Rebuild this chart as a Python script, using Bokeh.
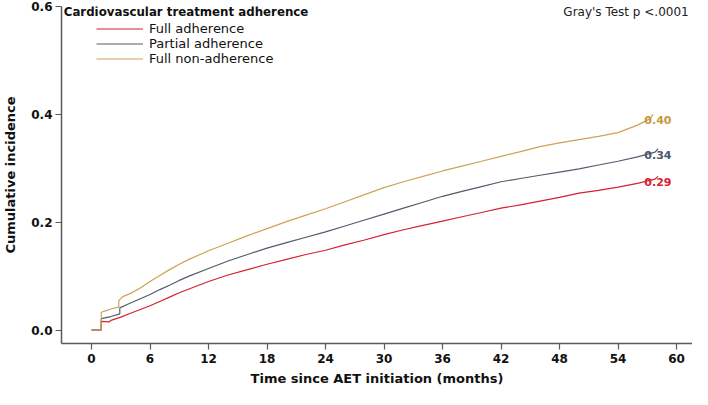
from bokeh.plotting import figure
from bokeh.models import Legend, LegendItem, Label, FixedTicker, PrintfTickFormatter
from bokeh.core.properties import value
from bokeh.embed import file_html
from bokeh.resources import INLINE

FONT = "DejaVu Sans"

# ---------------- data ----------------
groups = ["Full adherence", "Partial adherence", "Full non-adherence"]
colors = ["#d4222e", "#515c6c", "#cda355"]
label_colors = ["#d9232e", "#4a5670", "#c49a3c"]
end_labels = ["0.29", "0.34", "0.40"]

time_full = [0, 1, 1, 1.8, 2, 3, 4, 5, 6, 7, 8, 9, 10, 12, 14, 16, 18, 20, 22, 24, 26, 28,
             30, 32, 34, 36, 38, 40, 42, 44, 46, 48, 50, 52, 54, 56, 57.8, 58.1]
cif_full = [0, 0, 0.016, 0.015, 0.018, 0.024, 0.031, 0.038, 0.045, 0.053, 0.061, 0.069, 0.076,
            0.090, 0.102, 0.112, 0.122, 0.131, 0.140, 0.148, 0.158, 0.167, 0.177, 0.186, 0.194,
            0.202, 0.210, 0.218, 0.226, 0.232, 0.239, 0.246, 0.254, 0.259, 0.265, 0.272, 0.280, 0.285]

time_partial = [0, 1, 1, 2, 2.9, 2.9, 4, 5, 6, 7, 8, 9, 10, 12, 14, 16, 18, 20, 22, 24, 26, 28,
                30, 32, 34, 36, 38, 40, 42, 44, 46, 48, 50, 52, 54, 56, 57.8, 58.1]
cif_partial = [0, 0, 0.021, 0.025, 0.030, 0.041, 0.050, 0.058, 0.066, 0.075, 0.083, 0.092, 0.100,
               0.114, 0.128, 0.140, 0.152, 0.162, 0.172, 0.182, 0.193, 0.204, 0.215, 0.226, 0.237,
               0.248, 0.257, 0.266, 0.275, 0.281, 0.287, 0.293, 0.299, 0.306, 0.313, 0.321, 0.330, 0.336]

time_non = [0, 1, 1, 1.5, 2, 2.8, 2.8, 3.2, 4, 5, 6, 7, 8, 9, 10, 12, 14, 16, 18, 20, 22, 24, 26, 28,
            30, 32, 34, 36, 38, 40, 42, 44, 46, 48, 50, 52, 54, 56, 57.3, 57.6]
cif_non = [0, 0, 0.033, 0.036, 0.039, 0.043, 0.055, 0.062, 0.068, 0.078, 0.090, 0.101, 0.112, 0.122,
           0.131, 0.147, 0.161, 0.175, 0.188, 0.201, 0.213, 0.225, 0.238, 0.251, 0.264, 0.275,
           0.285, 0.295, 0.304, 0.313, 0.322, 0.331, 0.340, 0.347, 0.353, 0.359, 0.366, 0.380, 0.392, 0.400]

x_ticks = [0, 6, 12, 18, 24, 30, 36, 42, 48, 54, 60]
y_ticks = [0.0, 0.2, 0.4, 0.6]

legend_title = "Cardiovascular treatment adherence"
test_text = "Gray's Test p  <.0001"
x_title = "Time since AET initiation (months)"
y_title = "Cumulative incidence"

# ---------------- figure ----------------
p = figure(width=692, height=389, x_range=(-3.08, 61.64), y_range=(-0.025, 0.6),
           output_backend="svg", toolbar_location=None,
           min_border_left=61, min_border_right=0, min_border_top=6, min_border_bottom=46)
p.outline_line_color = None
p.xgrid.visible = False
p.ygrid.visible = False

for ax in (p.xaxis[0], p.yaxis[0]):
    ax.axis_line_color = "#5a5a5a"
    ax.axis_line_width = 1.5
    ax.major_tick_line_color = "#5a5a5a"
    ax.major_tick_line_width = 1.2
    ax.major_tick_out = 6
    ax.major_tick_in = 0
    ax.minor_tick_line_color = None
    ax.major_label_text_font = FONT
    ax.major_label_text_font_style = "bold"
    ax.major_label_text_font_size = "12px"
    ax.major_label_text_color = "#111111"
    ax.axis_label_text_font = FONT
    ax.axis_label_text_font_style = "bold"
    ax.axis_label_text_font_size = "13px"
    ax.axis_label_text_color = "#111111"

p.xaxis[0].ticker = FixedTicker(ticks=x_ticks)
p.yaxis[0].ticker = FixedTicker(ticks=y_ticks)
p.yaxis[0].formatter = PrintfTickFormatter(format="%.1f")
p.xaxis[0].axis_label = x_title
p.yaxis[0].axis_label = y_title
p.xaxis[0].major_label_standoff = 4
p.yaxis[0].major_label_standoff = 3
p.xaxis[0].axis_label_standoff = 5
p.yaxis[0].axis_label_standoff = 10

series = [(time_full, cif_full), (time_partial, cif_partial), (time_non, cif_non)]
renderers = []
for (t, v), c in zip(series, colors):
    r = p.line(t, v, line_color=c, line_width=1.2)
    renderers.append(r)

# end value labels
lab_x = [max(s[0][-1] for s in series) - 1.4] * 3
lab_y = [s[1][-1] - 0.011 for s in series]
p.text(x=lab_x, y=lab_y, text=end_labels, text_color=label_colors,
       text_font=value(FONT), text_font_style="bold", text_font_size="11px",
       text_baseline="middle", text_align="left")

# legend
legend = Legend(items=[LegendItem(label=g, renderers=[r]) for g, r in zip(groups, renderers)],
                location=(35, 277), orientation="vertical",
                glyph_width=47, glyph_height=15, label_height=15, label_standoff=6,
                spacing=0, padding=0, margin=0,
                border_line_color=None, background_fill_alpha=0,
                label_text_font=FONT, label_text_font_size="13px", label_text_color="#111111")
p.add_layout(legend)

p.add_layout(Label(x=-2.85, y=0.589, text=legend_title, text_font=FONT, text_font_style="bold",
                   text_font_size="11.8px", text_baseline="middle", text_color="#111111"))
p.add_layout(Label(x=61.64, y=0.589, text=test_text, text_font=FONT, text_font_size="12px",
                   text_baseline="middle", text_align="right", text_color="#222222"))

open("out.html", "w").write(file_html(p, INLINE))
